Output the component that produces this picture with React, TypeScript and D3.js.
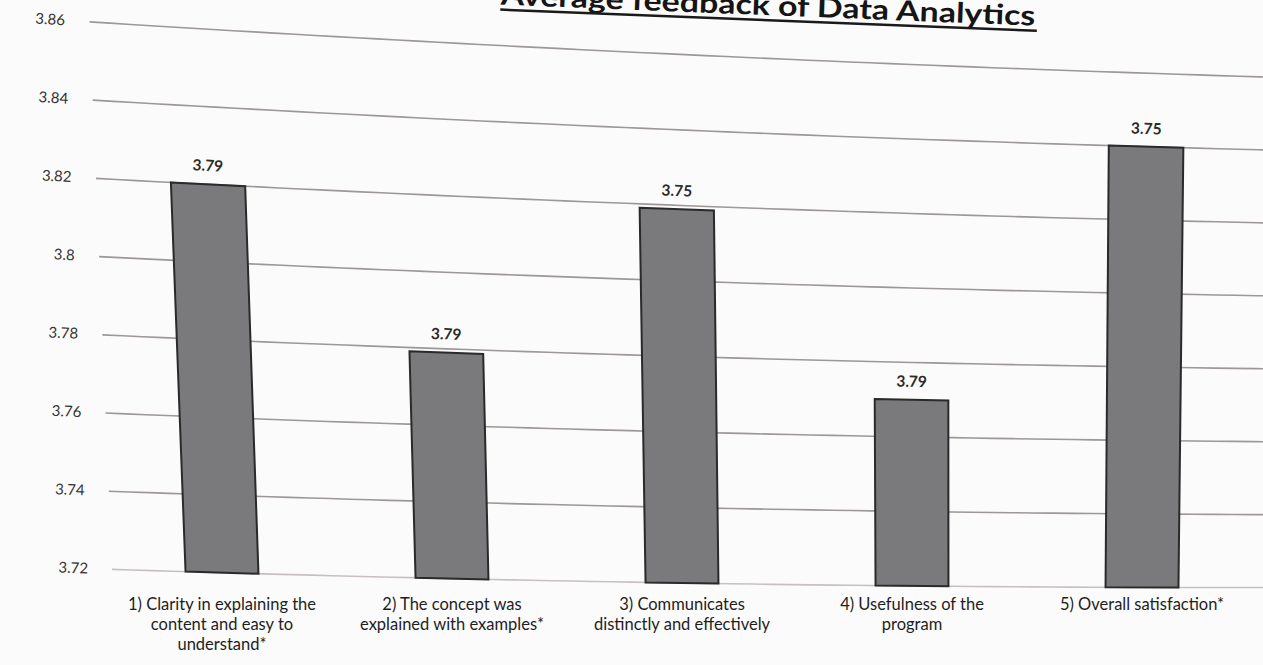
import React from 'react';
import * as d3 from 'd3';

// chart data
const title = 'Average feedback of Data Analytics';
const categoryLines = [
  ['1) Clarity in explaining the', 'content and easy to', 'understand*'],
  ['2) The concept was', 'explained with examples*'],
  ['3) Communicates', 'distinctly and effectively'],
  ['4) Usefulness of the', 'program'],
  ['5) Overall satisfaction*'],
];
const values = [3.82, 3.779, 3.819, 3.77, 3.84];
const valueLabels = ['3.79', '3.79', '3.75', '3.79', '3.75'];
const yTicks = [3.72, 3.74, 3.76, 3.78, 3.8, 3.82, 3.84, 3.86];

const W = 1263;
const H = 665;
const FONT = 'Lato, "Open Sans", sans-serif';

// the reference is a photo of a printed page, so the flat chart is bent a little
const CX = 682;
const YB = 583;
const warp = (x: number, y: number): [number, number] => {
  const up = YB - y;
  const xw = x + up * (-0.014 + 0.00005 * (x - CX));
  const t = (y - 130) / 453;
  const s = 0.0424 - 0.0264 * t;
  const dx = xw - CX;
  return [xw, y + s * dx - 0.000014 * dx * dx];
};
const slopeAt = (x: number, y: number) => {
  const a = warp(x, y);
  const b = warp(x + 1, y);
  return (Math.atan2(b[1] - a[1], b[0] - a[0]) * 180) / Math.PI;
};

const App = () => {
  const y = d3.scaleLinear().domain([3.72, 3.86]).range([YB, 54.5]);
  const x = d3
    .scaleBand<number>()
    .domain(values.map((_, i) => i))
    .range([107, 1257])
    .paddingInner(0.683)
    .paddingOuter(0.3415);

  const line = d3.line<[number, number]>();
  const gridXs = d3.range(112, 1321, 20);

  const bars = values.map((v, i) => {
    const x0 = x(i)!;
    const x1 = x0 + x.bandwidth();
    const pts = [warp(x0, y(v)), warp(x1, y(v)), warp(x1, YB), warp(x0, YB)];
    return line(pts) + 'Z';
  });

  const titleEnd = 1033;
  const titleLen = 535;
  const titleY = 10;
  const [tx, ty] = warp(titleEnd, titleY);
  const titleRot = `rotate(${slopeAt(titleEnd, titleY)},${tx},${ty})`;

  return (
    <svg width={W} height={H} style={{ position: 'absolute', left: 0, top: 0 }} fontFamily={FONT}>
      <rect width={W} height={H} fill="#fcfbfb" />

      {/* title, partly cut by the top edge of the photo */}
      <g transform={titleRot}>
        <text
          x={tx}
          y={ty}
          textAnchor="end"
          fontSize={28}
          fontWeight={700}
          fill="#151515"
          textLength={titleLen}
          lengthAdjust="spacingAndGlyphs"
        >
          {title}
        </text>
        <line x1={tx - titleLen} x2={tx + 2} y1={ty + 5} y2={ty + 5} stroke="#1a1a1a" strokeWidth={2.5} />
      </g>

      {/* gridlines */}
      {yTicks.map(t => (
        <path
          key={t}
          d={line(gridXs.map(gx => warp(gx, y(t))))!}
          fill="none"
          stroke={t === 3.72 ? '#c8c0c0' : '#9d9797'}
          strokeWidth={1.6}
        />
      ))}

      {/* y tick labels */}
      {yTicks.map(t => {
        const [lx, ly] = warp(88, y(t));
        return (
          <text
            key={t}
            x={lx}
            y={ly + 5}
            textAnchor="end"
            fontSize={15}
            fill="#333"
            transform={`rotate(${slopeAt(88, y(t))},${lx},${ly})`}
          >
            {String(t)}
          </text>
        );
      })}

      {/* bars */}
      {bars.map((d, i) => (
        <path key={i} d={d} fill="#7a7a7d" stroke="#2a2a2a" strokeWidth={2} />
      ))}

      {/* value labels */}
      {values.map((v, i) => {
        const cx = x(i)! + x.bandwidth() / 2;
        const [lx, ly] = warp(cx, y(v) - 13);
        return (
          <text
            key={i}
            x={lx}
            y={ly}
            textAnchor="middle"
            fontSize={15.5}
            fontWeight={700}
            fill="#2a2a2a"
            transform={`rotate(${slopeAt(cx, y(v) - 13)},${lx},${ly})`}
          >
            {valueLabels[i]}
          </text>
        );
      })}

      {/* category labels */}
      {categoryLines.map((lines, i) => {
        const cx = warp(x(i)! + x.bandwidth() / 2, YB)[0];
        return (
          <text key={i} textAnchor="middle" fontSize={16.5} fill="#1e1e1e">
            {lines.map((l, j) => (
              <tspan key={j} x={cx} y={610 + j * 20}>
                {l}
              </tspan>
            ))}
          </text>
        );
      })}
    </svg>
  );
};

export default App;
